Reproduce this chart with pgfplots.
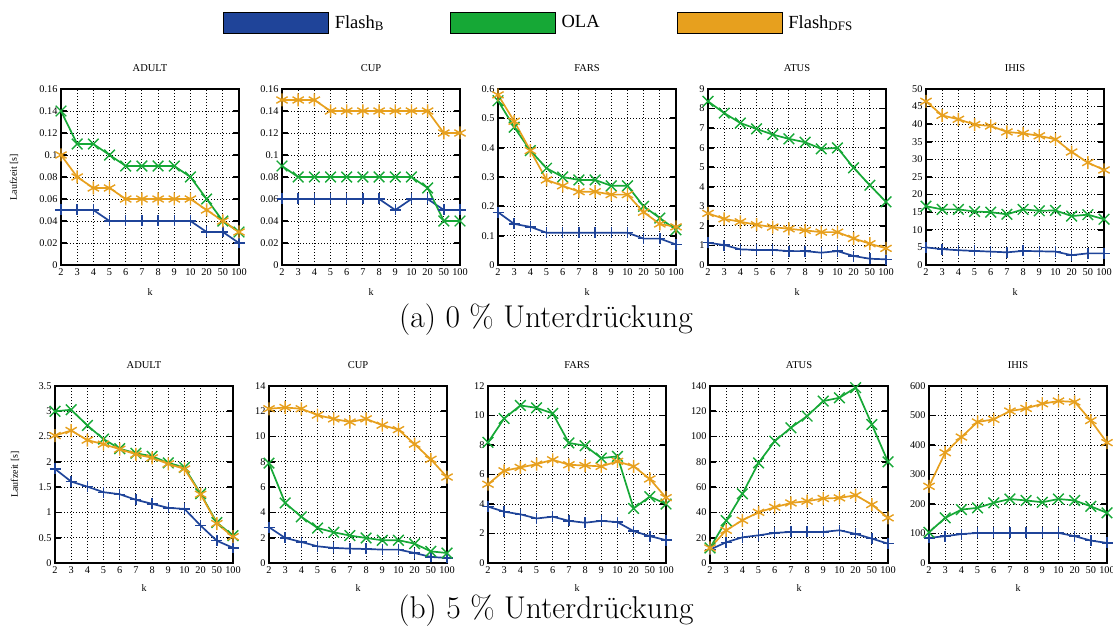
\documentclass[border=0pt]{standalone}
\usepackage{fontspec}
\usepackage{pgfplots}
\pgfplotsset{compat=1.18}
\usepackage{pgfplotstable}
\newfontfamily\tf{Liberation Serif}
\definecolor{cB}{RGB}{31,68,153}
\definecolor{cO}{RGB}{22,168,54}
\definecolor{cD}{RGB}{231,160,30}

\pgfplotstableread{
x b o d
0 0.05 0.14 0.10
1 0.05 0.11 0.08
2 0.05 0.11 0.07
3 0.04 0.10 0.07
4 0.04 0.09 0.06
5 0.04 0.09 0.06
6 0.04 0.09 0.06
7 0.04 0.09 0.06
8 0.04 0.08 0.06
9 0.03 0.06 0.05
10 0.03 0.04 0.04
11 0.02 0.03 0.03
}\tAdultA
\pgfplotstableread{
x b o d
0 0.06 0.09 0.15
1 0.06 0.08 0.15
2 0.06 0.08 0.15
3 0.06 0.08 0.14
4 0.06 0.08 0.14
5 0.06 0.08 0.14
6 0.06 0.08 0.14
7 0.05 0.08 0.14
8 0.06 0.08 0.14
9 0.06 0.07 0.14
10 0.05 0.04 0.12
11 0.05 0.04 0.12
}\tCupA
\pgfplotstableread{
x b o d
0 0.18 0.56 0.58
1 0.14 0.47 0.49
2 0.13 0.39 0.39
3 0.11 0.33 0.29
4 0.11 0.30 0.27
5 0.11 0.29 0.25
6 0.11 0.29 0.25
7 0.11 0.27 0.24
8 0.11 0.27 0.24
9 0.09 0.20 0.18
10 0.09 0.16 0.14
11 0.07 0.12 0.13
}\tFarsA
\pgfplotstableread{
x b o d
0 1.14 8.37 2.64
1 1.02 7.77 2.36
2 0.80 7.26 2.21
3 0.77 6.96 2.06
4 0.77 6.67 1.94
5 0.71 6.45 1.85
6 0.71 6.28 1.77
7 0.63 5.94 1.68
8 0.71 5.99 1.68
9 0.46 4.97 1.36
10 0.32 4.08 1.09
11 0.29 3.23 0.85
}\tAtusA
\pgfplotstableread{
x b o d
0 5.0 16.7 46.5
1 4.5 15.8 42.5
2 4.2 15.8 41.4
3 4.0 15.2 39.9
4 3.8 15.0 39.5
5 3.6 14.4 37.8
6 4.0 15.8 37.4
7 3.9 15.4 36.7
8 3.8 15.5 35.7
9 2.8 13.9 32.1
10 3.3 14.3 29.1
11 3.3 13.0 27.0
}\tIhisA
\pgfplotstableread{
x b o d
0 1.86 3.00 2.52
1 1.61 3.03 2.62
2 1.51 2.72 2.43
3 1.40 2.45 2.35
4 1.36 2.26 2.25
5 1.25 2.17 2.15
6 1.17 2.11 2.08
7 1.09 1.98 1.96
8 1.07 1.89 1.86
9 0.74 1.37 1.36
10 0.44 0.80 0.78
11 0.30 0.54 0.52
}\tAdultB
\pgfplotstableread{
x b o d
0 2.83 7.90 12.2
1 1.98 4.75 12.3
2 1.66 3.65 12.2
3 1.32 2.77 11.7
4 1.19 2.43 11.4
5 1.14 2.17 11.15
6 1.11 1.98 11.4
7 1.06 1.80 10.9
8 1.06 1.80 10.55
9 0.79 1.53 9.4
10 0.48 0.92 8.2
11 0.40 0.79 6.8
}\tCupB
\pgfplotstableread{
x b o d
0 3.82 8.18 5.34
1 3.48 9.80 6.25
2 3.30 10.68 6.48
3 3.02 10.52 6.70
4 3.14 10.14 7.00
5 2.86 8.14 6.66
6 2.73 7.95 6.61
7 2.86 7.11 6.55
8 2.77 7.23 6.89
9 2.16 3.70 6.55
10 1.82 4.50 5.70
11 1.55 4.00 4.43
}\tFarsB
\pgfplotstableread{
x b o d
0 10.6 11.9 11.9
1 16.4 33.5 25.9
2 20.3 54.7 33.8
3 21.9 79.2 40.1
4 23.8 96.4 44.1
5 24.6 107.0 47.5
6 24.6 116.2 48.9
7 24.6 128.1 51.0
8 25.9 130.7 51.5
9 23.0 138.7 53.6
10 19.3 109.6 46.2
11 15.3 80.0 35.7
}\tAtusB
\pgfplotstableread{
x b o d
0 85 104 260
1 91 153 374
2 98 181 427
3 102 187 478
4 102 204 487
5 102 217 515
6 102 212 524
7 102 206 540
8 102 217 549
9 91 212 546
10 76 192 483
11 68 170 408
}\tIhisB

\pgfplotsset{
 sB/.style={color=cB, line width=1.7pt, mark=+, mark size=5.5pt, mark options={line width=1.4pt}},
 sO/.style={color=cO, line width=1.7pt, mark=x, mark size=7.5pt, mark options={line width=1.4pt}},
 sD/.style={color=cD, line width=1.7pt, mark=asterisk, mark size=6.5pt, mark options={line width=1.4pt}},
 base/.style={
  scale only axis, width=178pt, anchor=south west, clip=false,
  xmin=0, xmax=11, ymin=0,
  xtick={0,...,11}, xticklabels={2,3,4,5,6,7,8,9,10,20,50,100},
  grid=major, grid style={black, line width=0.9pt, dash pattern=on 0.9pt off 2.1pt},
  axis line style={line width=1.9pt, black},
  tick align=inside, tick pos=both, major tick length=6pt,
  xtick style={draw=none}, ytick style={line width=1.7pt, black},
  scaled y ticks=false,
  yticklabel style={/pgf/number format/fixed, /pgf/number format/precision=2},
  /pgf/number format/assume math mode=true,
  tick label style={font=\tf\fontsize{10.3}{12}\selectfont, text=black},
  title style={font=\tf\fontsize{10.5}{12}\selectfont, at={(axis description cs:0.5,1.085)}, anchor=center},
  xlabel={k},
  label style={font=\tf\fontsize{10}{11}\selectfont},
 },
 rowA/.style={base, height=176pt, xlabel style={at={(axis description cs:0.5,-0.153)}, anchor=center}},
 rowB/.style={base, height=177pt, xlabel style={at={(axis description cs:0.5,-0.141)}, anchor=center}},
}

\newcommand{\three}[1]{%
 \addplot[sB] table[x=x,y=b]{#1};
 \addplot[sO] table[x=x,y=o]{#1};
 \addplot[sD] table[x=x,y=d]{#1};
}

\begin{document}
\begin{tikzpicture}
\useasboundingbox (0,0) rectangle (1113pt,630pt);

% legend
\begin{axis}[at={(0pt,0pt)}, anchor=south west, scale only axis, width=1113pt, height=630pt,
 hide axis, xmin=0, xmax=1, ymin=0, ymax=1,
 legend columns=3,
 legend image code/.code={\draw[#1,draw=black,line width=0.8pt] (0pt,-10.5pt) rectangle (105pt,10.5pt);},
 legend style={at={(0.20036,0.96429)}, anchor=west, draw=none, fill=none, inner sep=0pt, outer sep=0pt,
   column sep=0pt, nodes={inner sep=0pt}, font=\tf\fontsize{18.5}{21}\selectfont}]
\addlegendimage{fill=cB}
\addlegendentry{\makebox[121pt][l]{\hspace{6pt}Flash\textsubscript{B}}}
\addlegendimage{fill=cO}
\addlegendentry{\makebox[121pt][l]{\hspace{6pt}OLA}}
\addlegendimage{fill=cD}
\addlegendentry{\makebox[121pt][l]{\hspace{6pt}Flash\textsubscript{DFS}}}
\end{axis}

% row a
\begin{axis}[rowA, at={(61pt,365pt)}, title={ADULT}, ymax=0.16, ytick={0,0.02,0.04,0.06,0.08,0.1,0.12,0.14,0.16},
 ylabel={Laufzeit [s]}, ylabel style={at={(axis description cs:-0.264,0.5)}, anchor=center}]
\three{\tAdultA}
\end{axis}
\begin{axis}[rowA, at={(282pt,365pt)}, title={CUP}, ymax=0.16, ytick={0,0.02,0.04,0.06,0.08,0.1,0.12,0.14,0.16}]
\three{\tCupA}
\end{axis}
\begin{axis}[rowA, at={(498pt,365pt)}, title={FARS}, ymax=0.6, ytick={0,0.1,0.2,0.3,0.4,0.5,0.6}]
\three{\tFarsA}
\end{axis}
\begin{axis}[rowA, at={(708pt,365pt)}, title={ATUS}, ymax=9, ytick={0,1,...,9}]
\three{\tAtusA}
\end{axis}
\begin{axis}[rowA, at={(926pt,365pt)}, title={IHIS}, ymax=50, ytick={0,5,...,50}]
\three{\tIhisA}
\end{axis}

% row b
\begin{axis}[rowB, at={(55pt,67pt)}, title={ADULT}, ymax=3.5, ytick={0,0.5,1,1.5,2,2.5,3,3.5},
 ylabel={Laufzeit [s]}, ylabel style={at={(axis description cs:-0.225,0.5)}, anchor=center}]
\three{\tAdultB}
\end{axis}
\begin{axis}[rowB, at={(269pt,67pt)}, title={CUP}, ymax=14, ytick={0,2,...,14}]
\three{\tCupB}
\end{axis}
\begin{axis}[rowB, at={(488pt,67pt)}, title={FARS}, ymax=12, ytick={0,2,...,12}]
\three{\tFarsB}
\end{axis}
\begin{axis}[rowB, at={(710pt,67pt)}, title={ATUS}, ymax=140, ytick={0,20,...,140}]
\three{\tAtusB}
\end{axis}
\begin{axis}[rowB, at={(929pt,67pt)}, title={IHIS}, ymax=600, ytick={0,100,...,600}]
\three{\tIhisB}
\end{axis}

\node[font=\fontsize{31.5}{36}\selectfont] at (546pt,310pt) {(a) 0~\% Unterdrückung};
\node[font=\fontsize{31.5}{36}\selectfont] at (546pt,19pt) {(b) 5~\% Unterdrückung};
\end{tikzpicture}
\end{document}
